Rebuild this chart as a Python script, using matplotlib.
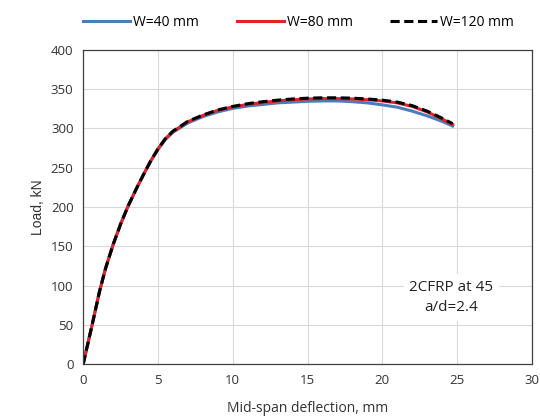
import matplotlib.pyplot as plt

# =========================
# DATA
# =========================
deflection = [0, 0.3, 0.6, 1.1, 1.5, 2, 2.5, 3, 3.5, 4, 4.5, 5, 5.5, 6, 7, 8, 9,
              10, 11, 12, 13, 14, 15, 16, 17, 18, 19, 20, 21, 22, 23, 24, 24.7]

load_w40 = [0, 25, 50, 93, 122, 152, 178, 201, 221, 240, 258, 273, 286, 295, 307,
            315, 321, 325.5, 328.5, 330.5, 332.5, 333.5, 334.5, 335, 335, 334, 332.5,
            330, 327, 322, 316, 309, 303]
load_w80 = [0, 25, 50, 93, 122, 152, 178, 201, 221, 240, 258, 274, 287, 296, 308.5,
            316.5, 323, 327.5, 330.5, 333, 335, 336.5, 337.5, 338, 338, 337.5, 336.5,
            335, 332.5, 328, 321, 312, 305]
load_w120 = [0, 25, 50, 93, 122, 152, 178, 201, 221, 240, 258, 274, 287, 296.5, 309,
             317, 323.5, 328, 331.5, 334, 336, 337.5, 338.5, 339, 339, 338.5, 337.5,
             336, 333.5, 329, 322, 313, 306]

series_labels = ["W=40 mm", "W=80 mm", "W=120 mm"]
x_ticks = [0, 5, 10, 15, 20, 25, 30]
y_ticks = [0, 50, 100, 150, 200, 250, 300, 350, 400]


def main():
    plt.rcParams["font.family"] = ["Open Sans", "DejaVu Sans"]

    fig = plt.figure(figsize=(5.4, 4.19), dpi=100)
    ax = fig.add_axes([0.154, 0.131, 0.831, 0.750])

    ax.plot(deflection, load_w40, color="#4A7EBB", lw=2.2, label=series_labels[0])
    ax.plot(deflection, load_w80, color="#E0232B", lw=2.2, label=series_labels[1])
    ax.plot(deflection, load_w120, color="black", lw=2.2, ls=(0, (3, 1.5)),
            label=series_labels[2])

    ax.set_xlim(0, 30)
    ax.set_ylim(0, 400)
    ax.set_xticks(x_ticks)
    ax.set_yticks(y_ticks)
    ax.grid(True, color="#D9D9D9", lw=0.8)
    ax.set_axisbelow(True)
    ax.tick_params(length=0, labelsize=9.5, pad=7, colors="#333333")
    for s in ax.spines.values():
        s.set_color("#404040")
        s.set_linewidth(0.9)

    ax.set_xlabel("Mid-span deflection, mm", fontsize=10, color="#333333",
                  labelpad=10)
    ax.set_ylabel("Load, kN", fontsize=10, color="#333333",
                  family=["Liberation Sans Narrow", "Liberation Sans", "DejaVu Sans"])

    ax.text(24.6, 85, "2CFRP at 45\na/d=2.4", ha="center", va="center",
            fontsize=11, linespacing=1.5, color="#222222",
            bbox=dict(facecolor="white", edgecolor="none", pad=4))

    fig.legend(loc="upper center", bbox_to_anchor=(0.553, 0.995), ncol=3,
               frameon=False, fontsize=10, handlelength=3.4, handletextpad=0.2,
               columnspacing=2.7)

    fig.savefig("out.png", dpi=100)


if __name__ == "__main__":
    main()
